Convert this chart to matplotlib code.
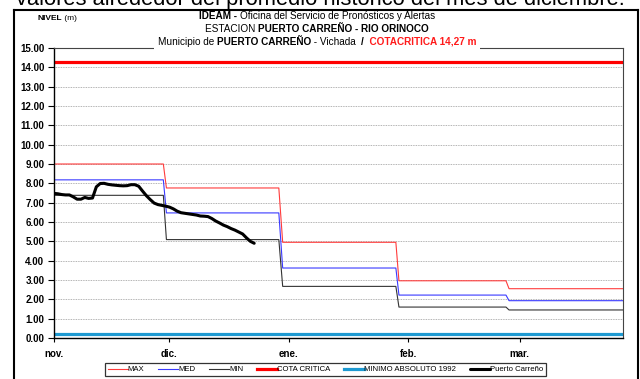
import matplotlib
matplotlib.use("Agg")
import matplotlib.pyplot as plt
from matplotlib.lines import Line2D
from matplotlib.patches import Rectangle
import numpy as np

plt.rcParams['font.family'] = ['Liberation Sans', 'DejaVu Sans']

# ---- data -------------------------------------------------------------
# x axis: days counted from 1 November
month_ticks = [0, 30, 61, 92, 121]
month_labels = ['nov.', 'dic.', 'ene.', 'feb.', 'mar.']
x_end = 147.8

# day on which each monthly reference value changes (start, end of drop)
step_start = [28.4, 58.4, 88.8, 117.4]
step_end = [29.2, 59.4, 89.6, 118.2]

# monthly reference levels nov..mar (m)
level_max = [9.00, 7.76, 4.95, 2.96, 2.55]
level_med = [8.18, 6.47, 3.62, 2.22, 1.93]
level_min = [7.38, 5.09, 2.67, 1.60, 1.45]

cota_critica = 14.27
minimo_absoluto_1992 = 0.21

# daily observed levels at Puerto Carreño (m), from 1 November
obs_days = list(range(53))
obs_level = [7.48, 7.46, 7.42, 7.40, 7.40, 7.30, 7.18, 7.18, 7.27, 7.22,
             7.24, 7.82, 7.99, 8.00, 7.95, 7.92, 7.90, 7.88, 7.87, 7.88,
             7.93, 7.93, 7.85, 7.60, 7.36, 7.16, 6.98, 6.90, 6.86, 6.82,
             6.77, 6.68, 6.56, 6.48, 6.45, 6.42, 6.39, 6.36, 6.31, 6.30,
             6.28, 6.18, 6.05, 5.95, 5.84, 5.76, 5.66, 5.58, 5.48, 5.38,
             5.18, 5.00, 4.90]

y_ticks = np.arange(0, 15.01, 1.0)


def step_series(levels):
    xs, ys = [0.0], [levels[0]]
    for i, (s, e) in enumerate(zip(step_start, step_end)):
        xs += [s, e]
        ys += [levels[i], levels[i + 1]]
    xs.append(x_end)
    ys.append(levels[-1])
    return xs, ys


# ---- figure -----------------------------------------------------------
W, H = 640, 379
fig = plt.figure(figsize=(W / 100, H / 100), dpi=100)
fig.patch.set_facecolor('white')


def fx(px):
    return px / W


def fy(py):
    return 1 - py / H


ax_l, ax_r, ax_t, ax_b = 54, 623, 48, 338
ax = fig.add_axes([fx(ax_l), fy(ax_b), fx(ax_r - ax_l), (ax_b - ax_t) / H])

ax.set_xlim(0, x_end)
ax.set_ylim(0, 15)
ax.set_yticks(y_ticks)
ax.set_yticklabels([f'{v:.2f}' for v in y_ticks], fontsize=7, fontweight='bold')
ax.set_xticks(month_ticks)
ax.set_xticklabels(month_labels, fontsize=7, fontweight='bold')
ax.tick_params(axis='y', direction='out', length=4, width=0.8, pad=3)
ax.tick_params(axis='x', direction='out', length=3, width=0.8, pad=5)
ax.yaxis.grid(True, color='#9a9a9a', linestyle=(0, (1, 1)), linewidth=0.6)
ax.set_axisbelow(True)
for side in ('left', 'bottom'):
    ax.spines[side].set_color('black')
    ax.spines[side].set_linewidth(1.0)
for side in ('top', 'right'):
    ax.spines[side].set_color('#444444')
    ax.spines[side].set_linewidth(0.8)

lw_thin = 0.8
xs, ys = step_series(level_max)
ax.plot(xs, ys, color='#ff3c3c', lw=lw_thin, label='MAX')
xs, ys = step_series(level_med)
ax.plot(xs, ys, color='#3a3aff', lw=lw_thin, label='MED')
xs, ys = step_series(level_min)
ax.plot(xs, ys, color='#333333', lw=lw_thin, label='MIN')
ax.axhline(cota_critica, color='#ff0000', lw=2.3, label='COTA CRITICA')
ax.axhline(minimo_absoluto_1992, color='#1e9ad2', lw=2.3,
           label='MINIMO ABSOLUTO 1992')
ax.plot(obs_days, obs_level, color='black', lw=2.2, solid_joinstyle='round',
        solid_capstyle='round', label='Puerto Carreño')

leg = fig.legend(loc='center', bbox_to_anchor=(fx(325.5), fy(369.5)), ncol=6,
                 fontsize=5.6, frameon=True, fancybox=False, handlelength=2.6,
                 handletextpad=0.0, columnspacing=1.75, borderpad=0.35,
                 borderaxespad=0)
leg.get_frame().set_edgecolor('black')
leg.get_frame().set_linewidth(0.9)

# ---- header texts -----------------------------------------------------
fig.canvas.draw()
renderer = fig.canvas.get_renderer()


def rich_line(pieces, cx_px, cy_px, size, anchor='center'):
    """Draw a line made of (text, weight, colour) pieces; returns (x0, x1) px."""
    arts = [fig.text(0, fy(cy_px), t, fontsize=size, fontweight=w, color=c,
                     ha='left', va='center', zorder=5) for t, w, c in pieces]
    widths = [a.get_window_extent(renderer).width for a in arts]
    total = sum(widths)
    x = cx_px - total / 2 if anchor == 'center' else cx_px
    start = x
    for a, w in zip(arts, widths):
        a.set_x(fx(x))
        x += w
    return start, x


rich_line([('NIVEL', 'bold', 'black'), (' (m)', 'normal', 'black')], 37, 19, 6,
          anchor='left')

cx = 317
rich_line([('IDEAM - ', 'bold', 'black'),
           ('Oficina del Servicio de Pronósticos y Alertas', 'normal', 'black')],
          cx, 16, 7.2)
rich_line([('ESTACION ', 'normal', 'black'),
           ('PUERTO CARREÑO - RIO ORINOCO', 'bold', 'black')], cx, 29, 7.2)
x0, x1 = rich_line([('Municipio de ', 'normal', 'black'),
                    ('PUERTO CARREÑO', 'bold', 'black'),
                    (' - Vichada  ', 'normal', 'black'),
                    ('/', 'bold', 'black'),
                    ('  COTACRITICA 14,27 m', 'bold', '#ff1a1a')], cx, 42, 7.2)
# blank the plot border behind the third header line
fig.add_artist(Rectangle((fx(x0 - 4), fy(50)), fx(x1 - x0 + 8), 5 / H,
                         transform=fig.transFigure, facecolor='white',
                         edgecolor='none', zorder=4))

# running document text above the frame
top_line = 'valores alrededor del promedio histórico del mes de diciembre.'
tt = fig.text(fx(16), fy(5.5), top_line, fontsize=13, ha='left', va='baseline')
w_top = tt.get_window_extent(renderer).width
tt.set_fontsize(13 * 609 / w_top)

# outer frame
frame_kw = dict(color='black', lw=1.5, transform=fig.transFigure, zorder=6)
fig.add_artist(Line2D([fx(14), fx(638)], [fy(10), fy(10)], **frame_kw))
fig.add_artist(Line2D([fx(14), fx(14)], [fy(10), 0], **frame_kw))
fig.add_artist(Line2D([fx(638), fx(638)], [fy(10), 0], **frame_kw))

fig.savefig('out.png', dpi=100)
